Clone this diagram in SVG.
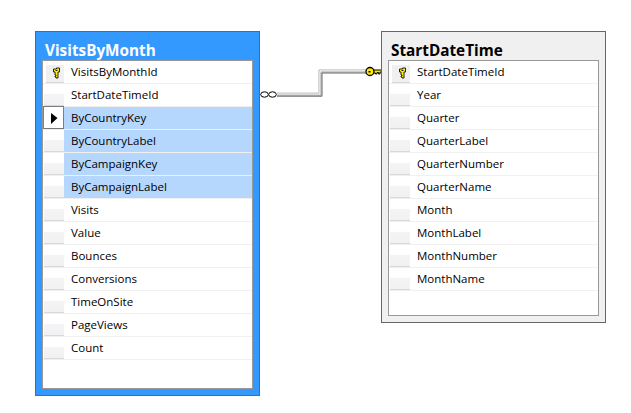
<svg xmlns="http://www.w3.org/2000/svg" width="631" height="413" viewBox="0 0 631 413">
<style>
text{font-family:"Open Sans","Noto Sans","Liberation Sans",sans-serif;fill:#000}
.t{font-size:15.3px;font-weight:700}
.r{font-size:11.5px}
.inner{fill:#fff;stroke:#999;stroke-width:1}
.sep{stroke:#f0f0f0;stroke-width:1}
.gl{stroke:#d8d8d8;stroke-width:1}
.sel{fill:#b5d7fe}
.cn{fill:none;stroke-width:1}
</style>
<defs>
<linearGradient id="gut" x1="0" y1="0" x2="0" y2="1"><stop offset="0" stop-color="#fff"/><stop offset="0.42" stop-color="#fff"/><stop offset="0.45" stop-color="#f4f4f5"/><stop offset="1" stop-color="#f1f1f3"/></linearGradient>
<g id="cell"><rect x="0" y="0" width="20" height="20" fill="url(#gut)"/><path d="M0 20.500H20" class="gl"/></g>
<g id="keycell"><rect x="2" y="3" width="18" height="17" fill="#f0f0f0"/><path d="M2 20.500H20" class="gl"/></g>
<g id="key">
<path d="M-3 -4H0V-5H3V-1H1.500V5H-0.500V4H-1.500V3H-0.500V2H-1.500V0H-1.500V-1H-3Z" fill="#ffec00" stroke="#222" stroke-width="1" stroke-linejoin="miter"/>
<rect x="-1" y="-3" width="2" height="1" fill="#222"/>
</g>
</defs>
<g id="connectors">
<path class="cn" stroke="#aaa" d="M277 93.200H319V70H366"/>
<path class="cn" stroke="#f2f2f2" d="M277 94.200H320V71H366"/>
<path class="cn" stroke="#a0a0a0" d="M277 95.200H321V72H366"/>
<path class="cn" stroke="#666" d="M277 96.200H322V73H366"/>
<ellipse cx="264.500" cy="94.500" rx="3.800" ry="2.700" fill="#fff" stroke="#000"/>
<ellipse cx="272.500" cy="94.500" rx="3.800" ry="2.700" fill="#fff" stroke="#000"/>
<path d="M373 70H381.500V72H380V74H378.500V72.500H377V74H375.500V73H373Z" fill="#ffec00" stroke="#000" stroke-width="1"/>
<circle cx="370" cy="71.500" r="4" fill="#ffec00" stroke="#000" stroke-width="1.300"/>
<rect x="368.500" y="71" width="2" height="1.500" fill="#000"/>
</g>
<g id="VisitsByMonth">
<rect x="35.500" y="31.500" width="224" height="364" fill="#3399ff" stroke="#666"/>
<text class="t" x="45" y="56" style="fill:#fff">VisitsByMonth</text>
<rect class="inner" x="42.500" y="60.500" width="210" height="328"/>
<rect class="sel" x="64" y="107" width="188" height="22"/>
<rect class="sel" x="64" y="130" width="188" height="22"/>
<rect class="sel" x="64" y="153" width="188" height="22"/>
<rect class="sel" x="64" y="176" width="188" height="22"/>
<path class="sep" d="M43 83.500H252M43 106.500H252M43 129.500H252M43 152.500H252M43 175.500H252M43 198.500H252M43 221.500H252M43 244.500H252M43 267.500H252M43 290.500H252M43 313.500H252M43 336.500H252M43 359.500H252"/>
<use href="#keycell" x="44" y="62"/><use href="#cell" x="44" y="85"/><use href="#cell" x="44" y="108"/><use href="#cell" x="44" y="131"/><use href="#cell" x="44" y="154"/><use href="#cell" x="44" y="177"/><use href="#cell" x="44" y="200"/><use href="#cell" x="44" y="223"/><use href="#cell" x="44" y="246"/><use href="#cell" x="44" y="269"/><use href="#cell" x="44" y="292"/><use href="#cell" x="44" y="315"/><use href="#cell" x="44" y="338"/>
<use href="#key" x="56.500" y="73"/>
<rect x="43.500" y="106.500" width="20" height="22" fill="#fff" stroke="#000" stroke-dasharray="1 1"/>
<path d="M51 113L57.500 118L51 124Z" fill="#000"/>
<text class="r" x="71" y="76">VisitsByMonthId</text>
<text class="r" x="71" y="99">StartDateTimeId</text>
<text class="r" x="71" y="122">ByCountryKey</text>
<text class="r" x="71" y="145">ByCountryLabel</text>
<text class="r" x="71" y="168">ByCampaignKey</text>
<text class="r" x="71" y="191">ByCampaignLabel</text>
<text class="r" x="71" y="214">Visits</text>
<text class="r" x="71" y="237">Value</text>
<text class="r" x="71" y="260">Bounces</text>
<text class="r" x="71" y="283">Conversions</text>
<text class="r" x="71" y="306">TimeOnSite</text>
<text class="r" x="71" y="329">PageViews</text>
<text class="r" x="71" y="352">Count</text>
</g>
<g id="StartDateTime">
<rect x="381.500" y="31.500" width="224" height="291" fill="#f0f0f0" stroke="#666"/>
<text class="t" x="391" y="56">StartDateTime</text>
<rect class="inner" x="388.500" y="60.500" width="210" height="255"/>
<path class="sep" d="M389 83.500H598M389 106.500H598M389 129.500H598M389 152.500H598M389 175.500H598M389 198.500H598M389 221.500H598M389 244.500H598M389 267.500H598M389 290.500H598"/>
<use href="#keycell" x="390" y="62"/><use href="#cell" x="390" y="85"/><use href="#cell" x="390" y="108"/><use href="#cell" x="390" y="131"/><use href="#cell" x="390" y="154"/><use href="#cell" x="390" y="177"/><use href="#cell" x="390" y="200"/><use href="#cell" x="390" y="223"/><use href="#cell" x="390" y="246"/><use href="#cell" x="390" y="269"/>
<use href="#key" x="402.500" y="73"/>
<text class="r" x="417" y="76">StartDateTimeId</text>
<text class="r" x="417" y="99">Year</text>
<text class="r" x="417" y="122">Quarter</text>
<text class="r" x="417" y="145">QuarterLabel</text>
<text class="r" x="417" y="168">QuarterNumber</text>
<text class="r" x="417" y="191">QuarterName</text>
<text class="r" x="417" y="214">Month</text>
<text class="r" x="417" y="237">MonthLabel</text>
<text class="r" x="417" y="260">MonthNumber</text>
<text class="r" x="417" y="283">MonthName</text>
</g>
</svg>
